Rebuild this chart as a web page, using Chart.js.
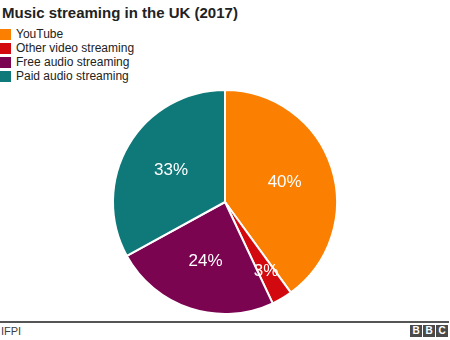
<!DOCTYPE html>
<html>
<head>
<meta charset="utf-8">
<script src="https://cdn.jsdelivr.net/npm/chart.js@4/dist/chart.umd.min.js"></script>
<style>
  html, body { margin: 0; padding: 0; background: #fff; }
  body { width: 450px; height: 340px; position: relative; overflow: hidden; font-family: "Liberation Sans", Arial, sans-serif; }
  #title { position: absolute; left: 2px; top: 4px; font-size: 15px; line-height: 18px; font-weight: bold; color: #222; white-space: nowrap; }
  #legend { position: absolute; left: 0; top: 27px; }
  .li { height: 14px; line-height: 14px; font-size: 12px; color: #222; white-space: nowrap; display: flex; align-items: center; }
  .sw { width: 11px; height: 11px; margin-right: 5px; flex: none; }
  #wrap { position: absolute; left: 0; top: 89px; width: 450px; height: 226px; }
  #rule { position: absolute; left: 0; top: 321px; width: 449px; height: 2px; background: #555; }
  #src { position: absolute; left: 1px; top: 325px; font-size: 11px; color: #404040; }
  #bbc { position: absolute; right: 2px; top: 325px; display: flex; gap: 1px; }
  #bbc span { width: 12px; height: 12px; background: #4a4a4a; color: #fff; font-size: 10px; font-weight: bold; line-height: 12px; text-align: center; display: block; }
</style>
</head>
<body>
<div id="title">Music streaming in the UK (2017)</div>
<div id="legend"></div>
<div id="wrap"><canvas id="c"></canvas></div>
<div id="rule"></div>
<div id="src">IFPI</div>
<div id="bbc"><span>B</span><span>B</span><span>C</span></div>
<script>
const categories = ["YouTube", "Other video streaming", "Free audio streaming", "Paid audio streaming"];
const shares = [40, 3, 24, 33];
const colors = ["#fb7f00", "#d20a0f", "#7b0451", "#0f7879"];

const legend = document.getElementById("legend");
categories.forEach((name, i) => {
  const row = document.createElement("div");
  row.className = "li";
  const sw = document.createElement("span");
  sw.className = "sw";
  sw.style.background = colors[i];
  row.appendChild(sw);
  row.appendChild(document.createTextNode(name));
  legend.appendChild(row);
});

const labelPlugin = {
  id: "sliceLabels",
  afterDatasetsDraw(chart) {
    const ctx = chart.ctx;
    const meta = chart.getDatasetMeta(0);
    const data = chart.data.datasets[0].data;
    ctx.save();
    ctx.fillStyle = "#ffffff";
    ctx.font = '17px "Liberation Sans", Arial, sans-serif';
    ctx.textAlign = "center";
    ctx.textBaseline = "middle";
    meta.data.forEach((arc, i) => {
      const p = arc.getProps(["x", "y", "startAngle", "endAngle", "outerRadius"], true);
      const mid = (p.startAngle + p.endAngle) / 2;
      const f = data[i] < 5 ? 0.72 : 0.56;
      const r = p.outerRadius * f;
      ctx.fillText(data[i] + "%", p.x + Math.cos(mid) * r, p.y + Math.sin(mid) * r);
    });
    ctx.restore();
  }
};

new Chart(document.getElementById("c"), {
  type: "pie",
  data: {
    labels: categories,
    datasets: [{
      data: shares,
      backgroundColor: colors,
      borderColor: "#ffffff",
      borderWidth: 2,
      hoverOffset: 0
    }]
  },
  options: {
    responsive: true,
    maintainAspectRatio: false,
    animation: false,
    layout: { padding: 0 },
    plugins: {
      legend: { display: false },
      tooltip: { enabled: false },
      title: { display: false }
    }
  },
  plugins: [labelPlugin]
});
</script>
</body>
</html>
